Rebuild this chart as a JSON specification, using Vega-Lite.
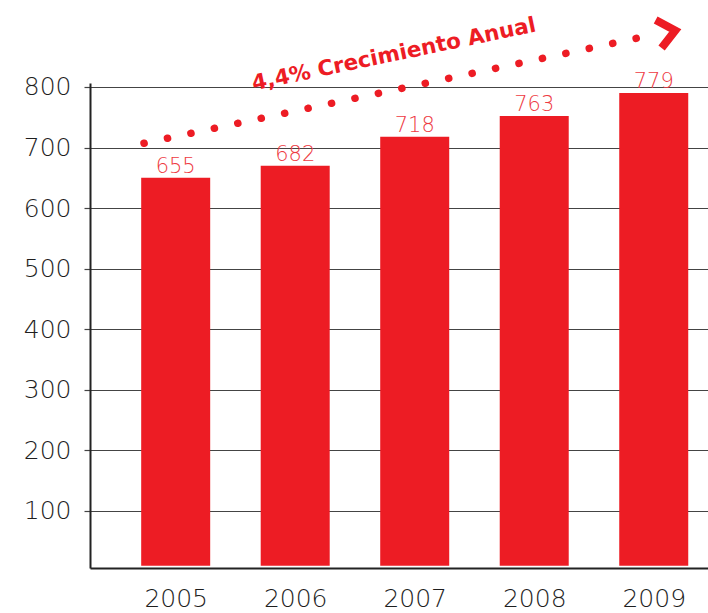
{
  "$schema": "https://vega.github.io/schema/vega-lite/v6.json",
  "autosize": "none",
  "width": 618,
  "height": 485,
  "padding": {"left": 90, "top": 83, "right": 0, "bottom": 45},
  "background": "white",
  "config": {
    "view": {"stroke": null},
    "font": "DejaVu Sans"
  },
  "datasets": {
    "bars": [
      {"year": 2005, "value": 650, "label": "655"},
      {"year": 2006, "value": 670, "label": "682"},
      {"year": 2007, "value": 718, "label": "718"},
      {"year": 2008, "value": 752, "label": "763"},
      {"year": 2009, "value": 790, "label": "779"}
    ],
    "trend": [
      {"year": 2004.735, "value": 707},
      {"year": 2009.032, "value": 887.9}
    ],
    "arrow": [
      {"year": 2009.18, "value": 893.3}
    ],
    "note": [
      {"year": 2006.827, "value": 852.9, "text": "4,4% Crecimiento Anual"}
    ]
  },
  "layer": [
    {
      "data": {"name": "bars"},
      "mark": {"type": "bar", "width": 69, "color": "#ED1C24"},
      "encoding": {
        "x": {
          "field": "year", "type": "quantitative",
          "scale": {"domain": [2004.283, 2009.454], "nice": false, "zero": false, "padding": 0},
          "axis": {
            "title": null, "values": [2005, 2006, 2007, 2008, 2009], "format": "d",
            "grid": false, "ticks": false, "domainColor": "#222", "domainWidth": 2,
            "labelFontSize": 25, "labelColor": "#1e1e1e", "labelPadding": 18, "labelFontWeight": 300
          }
        },
        "y": {
          "field": "value", "type": "quantitative",
          "scale": {"domain": [5.3, 806.6], "nice": false, "zero": false, "padding": 0},
          "axis": {
            "title": null, "values": [100, 200, 300, 400, 500, 600, 700, 800],
            "grid": true, "gridColor": "#444", "gridWidth": 1.2, "gridOpacity": 1,
            "ticks": true, "tickSize": 6, "tickColor": "#444", "tickWidth": 1.2,
            "domainColor": "#222", "domainWidth": 2,
            "labelFontSize": 25, "labelColor": "#1e1e1e", "labelPadding": 13, "labelFontWeight": 300
          }
        },
        "y2": {"datum": 9}
      }
    },
    {
      "data": {"name": "bars"},
      "mark": {"type": "text", "baseline": "alphabetic", "align": "center", "dy": -5, "fontSize": 21, "fontWeight": 300, "color": "#EE3A42"},
      "encoding": {
        "x": {"field": "year", "type": "quantitative"},
        "y": {"field": "value", "type": "quantitative"},
        "text": {"field": "label"}
      }
    },
    {
      "data": {"name": "trend"},
      "mark": {"type": "line", "color": "#ED1C24", "strokeWidth": 7.5, "strokeCap": "round", "strokeDash": [0.1, 23.86]},
      "encoding": {
        "x": {"field": "year", "type": "quantitative"},
        "y": {"field": "value", "type": "quantitative"}
      }
    },
    {
      "data": {"name": "arrow"},
      "mark": {"type": "point", "shape": "M-1,-0.84L0,0L-1,0.84", "filled": false, "size": 1156, "angle": -12, "strokeWidth": 8, "color": "#ED1C24", "opacity": 1, "strokeJoin": "miter", "strokeCap": "butt"},
      "encoding": {
        "x": {"field": "year", "type": "quantitative"},
        "y": {"field": "value", "type": "quantitative"}
      }
    },
    {
      "data": {"name": "note"},
      "mark": {"type": "text", "align": "center", "baseline": "middle", "angle": -11.8, "fontSize": 21.5, "fontWeight": "bold", "font": "DejaVu Sans", "color": "#ED1C24"},
      "encoding": {
        "x": {"field": "year", "type": "quantitative"},
        "y": {"field": "value", "type": "quantitative"},
        "text": {"field": "text"}
      }
    }
  ]
}
